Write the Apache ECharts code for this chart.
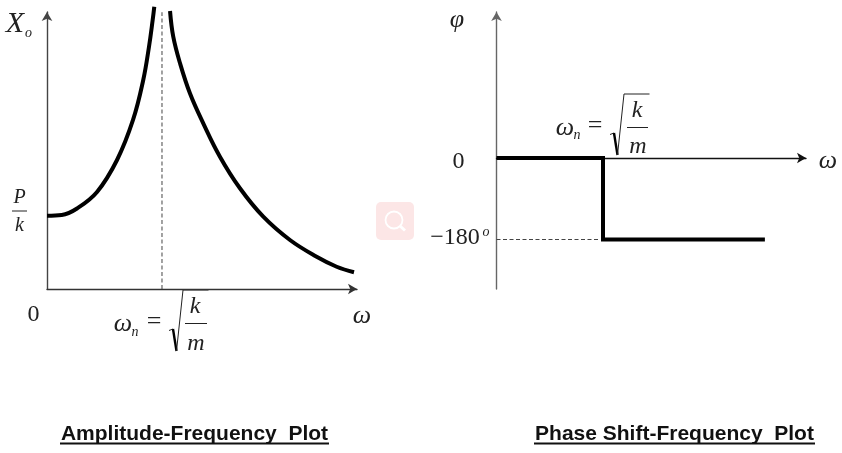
<!DOCTYPE html>
<html>
<head>
<meta charset="utf-8">
<style>html,body{margin:0;padding:0;background:#fff}#c{width:842px;height:453px}</style>
<script src="https://cdn.jsdelivr.net/npm/echarts@6/dist/echarts.min.js"></script>
</head>
<body>
<div id="c"></div>
<script>
// x in units of the natural frequency, amplitude in units of P/k
var ampBelowX = [0, 0.128, 0.261, 0.435, 0.609, 0.748, 0.837, 0.887, 0.919, 0.933];
var ampBelowY = [0.99, 1.0, 1.088, 1.311, 1.743, 2.284, 2.824, 3.274, 3.635, 3.815];
var ampAboveX = [1.07, 1.098, 1.157, 1.243, 1.359, 1.504, 1.678, 1.881, 2.113, 2.345, 2.519, 2.67];
var ampAboveY = [3.757, 3.41, 3.05, 2.645, 2.239, 1.788, 1.361, 0.977, 0.662, 0.436, 0.301, 0.226];
var resonanceX = [1, 1];
var resonanceY = [0, 3.74];
var phaseX = [0, 1, 1, 2.52];
var phaseY = [0, 0, -180, -180];
var phaseGuideX = [0, 0.97];
var phaseGuideY = [-180, -180];
var titleLeft = 'Amplitude-Frequency  Plot';
var titleRight = 'Phase Shift-Frequency  Plot';

function zip(a, b) { return a.map(function (v, i) { return [v, b[i]]; }); }
var SERIF = '"Liberation Serif","Times New Roman",serif';
var INK = '#222';

function t(text, x, y, size, italic) {
  return { type: 'text', x: x, y: y, silent: true, style: {
    text: text, fill: INK, align: 'center', verticalAlign: 'middle',
    font: (italic ? 'italic ' : '') + size + 'px ' + SERIF } };
}
function rule(x1, y1, x2, y2, w, c) {
  return { type: 'line', silent: true, shape: { x1: x1, y1: y1, x2: x2, y2: y2 },
    style: { stroke: c || INK, lineWidth: w || 1 } };
}
function radical(x, y, s) {
  return [
    { type: 'polyline', silent: true, shape: { points: [[x, y + 1.5], [x + 4, y]] }, style: { stroke: INK, lineWidth: 1, fill: null } },
    { type: 'polyline', silent: true, shape: { points: [[x + 4, y], [x + 7.5, y + s]] }, style: { stroke: '#000', lineWidth: 2.4, fill: null } },
    { type: 'polyline', silent: true, shape: { points: [[x + 7.5, y + s], [x + 14, y + s - 61], [x + 39.5, y + s - 61]] }, style: { stroke: INK, lineWidth: 1, fill: null } }
  ];
}
function heading(text, cx, y, x1, x2) {
  return [
    { type: 'text', x: cx, y: y, silent: true, style: { text: text, fill: '#111', align: 'center', verticalAlign: 'middle',
      font: 'bold 21px "Liberation Sans",Arial,sans-serif' } },
    rule(x1, 443.5, x2, 443.5, 2, '#111')
  ];
}

var axisBase = { axisTick: { show: false }, axisLabel: { show: false }, splitLine: { show: false } };
function axis(extra, color, symbol) {
  return Object.assign({ type: 'value' }, axisBase, extra, {
    axisLine: { show: true, onZero: true, symbol: symbol, symbolSize: [8, 9],
      lineStyle: { color: color, width: 1.4 } } });
}
function line(xIdx, data, width, dashed, color, smooth) {
  return { type: 'line', xAxisIndex: xIdx, yAxisIndex: xIdx, data: data, showSymbol: false, symbol: 'none',
    clip: false, smooth: smooth ? 0.4 : false, silent: true,
    lineStyle: { color: color || '#000', width: width, type: dashed ? [4, 2.5] : 'solid', join: 'miter', cap: 'butt' } };
}

var chart = echarts.init(document.getElementById('c'), null, { renderer: 'canvas' });
chart.setOption({
  animation: false,
  backgroundColor: '#fff',
  grid: [
    { left: 47, top: 12, width: 310, height: 277 },
    { left: 496.5, top: 12, width: 309.5, height: 277 }
  ],
  xAxis: [
    axis({ gridIndex: 0, min: 0, max: 2.696 }, '#333', ['none', 'arrow']),
    axis({ gridIndex: 1, min: 0, max: 2.906 }, '#111', ['none', 'arrow'])
  ],
  yAxis: [
    axis({ gridIndex: 0, min: 0, max: 3.743 }, '#444', ['none', 'arrow']),
    axis({ gridIndex: 1, min: -289.3, max: 322.4 }, '#666', ['none', 'arrow'])
  ],
  series: [
    line(0, zip(resonanceX, resonanceY), 1, true, '#444'),
    line(0, zip(ampBelowX, ampBelowY), 4, false, '#000', true),
    line(0, zip(ampAboveX, ampAboveY), 4, false, '#000', true),
    line(1, zip(phaseGuideX, phaseGuideY), 1, true, '#444'),
    line(1, zip(phaseX, phaseY), 4, false, '#000')
  ],
  graphic: { elements: [].concat(
    [
      t('X', 15, 24, 30, true), t('o', 28.5, 33, 14, true),
      t('P', 19.5, 198, 20, true), rule(12, 211, 27, 211, 1), t('k', 19.5, 226, 20, true),
      t('0', 33.5, 315, 24, false), t('ω', 362, 316, 26, true),
      t('ω', 123, 324, 26, true), t('n', 135, 332, 14, true), t('=', 154, 322, 26, false),
      t('k', 195, 307, 24, true), rule(185, 323.5, 207, 323.5, 1), t('m', 196, 344, 24, true),
      t('φ', 457, 20, 26, true),
      t('0', 458.5, 162, 24, false),
      t('−180', 455, 238, 24, false), t('o', 486, 232, 14, true),
      t('ω', 565, 128, 26, true), t('n', 577, 135, 14, true), t('=', 595, 126, 26, false),
      t('k', 637, 111, 24, true), rule(627, 127.5, 648, 127.5, 1), t('m', 638, 147, 24, true),
      t('ω', 828, 161, 26, true),
      { type: 'rect', silent: true, shape: { x: 376, y: 202, width: 38, height: 38, r: 5 }, style: { fill: '#fce6e6' } },
      { type: 'circle', silent: true, shape: { cx: 394, cy: 220, r: 8.5 }, style: { fill: null, stroke: '#fff', lineWidth: 1.8 } },
      rule(400, 226, 405, 230.5, 3, '#fff')
    ],
    radical(169, 329, 22),
    radical(610, 133, 22),
    heading(titleLeft, 194.5, 434, 60, 329),
    heading(titleRight, 674.5, 434, 534, 815)
  ) }
});
</script>
</body>
</html>
